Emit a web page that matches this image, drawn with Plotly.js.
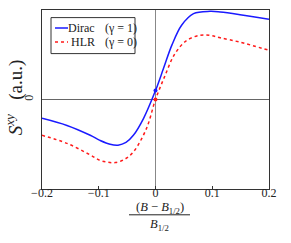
<!DOCTYPE html>
<html><head><meta charset="utf-8">
<script src="https://cdn.plot.ly/plotly-3.0.1.min.js"></script>
<style>html,body{margin:0;padding:0;background:#fff}#c{width:291px;height:243px}</style>
</head><body><div id="c"></div>
<script>
const diracX = [-0.2, -0.156, -0.115, -0.098, -0.08, -0.066, -0.052, -0.039, -0.021, 0, 0.014, 0.029, 0.046, 0.067, 0.096, 0.114, 0.149, 0.2];
const diracY = [-0.21, -0.29, -0.40, -0.456, -0.50, -0.51, -0.48, -0.40, -0.21, 0.10, 0.345, 0.61, 0.83, 0.96, 0.985, 0.978, 0.948, 0.896];
const hlrX = [-0.2, -0.156, -0.115, -0.098, -0.085, -0.071, -0.055, -0.039, -0.016, 0, 0.017, 0.034, 0.055, 0.078, 0.096, 0.114, 0.149, 0.2];
const hlrY = [-0.40, -0.49, -0.62, -0.68, -0.70, -0.705, -0.67, -0.586, -0.325, 0, 0.27, 0.51, 0.66, 0.717, 0.717, 0.69, 0.64, 0.55];
const markX = [0];
const diracMark = [0.10];
const hlrMark = [0];
const xTicks = [-0.2, -0.1, 0, 0.1, 0.2];
const xTickText = ['\u22120.2', '\u22120.1', '0', '0.1', '0.2'];
const legendNames = ['Dirac', 'HLR'];
const legendGamma = ['(\u03b3 = 1)', '(\u03b3 = 0)'];

const font = 'Liberation Serif, Times New Roman, serif';
const traces = [
  {x: diracX, y: diracY, mode: 'lines', line: {color: '#1a1aff', width: 1.5, shape: 'spline', smoothing: 1}},
  {x: hlrX, y: hlrY, mode: 'lines', line: {color: '#ff1a1a', width: 1.5, dash: 'dot', shape: 'spline', smoothing: 1}},
  {x: markX, y: diracMark, mode: 'markers', marker: {color: '#1a1aff', size: 4}},
  {x: markX, y: hlrMark, mode: 'markers', marker: {color: '#ff1a1a', size: 4}}
];
const px = v => (v - 42) / 227;
const py = v => 1 - (v - 9.7) / 179;
const layout = {
  width: 291, height: 243,
  margin: {l: 42, r: 22, t: 10, b: 54},
  paper_bgcolor: '#fff', plot_bgcolor: '#fff',
  showlegend: false,
  font: {family: font, size: 11, color: '#222'},
  xaxis: {range: [-0.2, 0.2], tickvals: xTicks, ticktext: xTickText, ticks: 'inside', ticklen: 3, tickcolor: '#333',
    ticklabelstandoff: -8,
    showline: true, mirror: true, linecolor: '#333', linewidth: 1.2, showgrid: false,
    zeroline: true, zerolinecolor: '#888', zerolinewidth: 1.2, tickfont: {family: font, size: 12, color: '#222'}},
  yaxis: {range: [-1, 1], tickvals: [0], ticktext: ['0'], ticks: '', tickangle: -90, ticklabelstandoff: 3,
    showline: true, mirror: true, linecolor: '#333', linewidth: 1.2, showgrid: false,
    zeroline: true, zerolinecolor: '#666', zerolinewidth: 1.2, tickfont: {family: font, size: 12, color: '#222'}},
  shapes: [
    {type: 'rect', xref: 'paper', yref: 'paper', x0: px(51), x1: px(135), y0: py(53.3), y1: py(17.3), line: {color: '#333', width: 1}, fillcolor: '#fff'},
    {type: 'line', xref: 'paper', yref: 'paper', x0: px(55), x1: px(68), y0: py(27.7), y1: py(27.7), line: {color: '#1a1aff', width: 1.5}},
    {type: 'line', xref: 'paper', yref: 'paper', x0: px(55), x1: px(68), y0: py(41.7), y1: py(41.7), line: {color: '#ff1a1a', width: 1.5, dash: 'dot'}},
    {type: 'line', xref: 'paper', yref: 'paper', x0: px(129), x1: px(190), y0: py(214.5), y1: py(214.5), line: {color: '#222', width: 1}}
  ],
  annotations: [
    {xref: 'paper', yref: 'paper', x: px(14), y: py(97), text: '<i>S</i><sup><i>xy</i></sup>\u00a0\u00a0\u00a0(a.u.)', textangle: -90, showarrow: false, xanchor: 'center', yanchor: 'middle', font: {family: font, size: 19, color: '#222'}},
    {xref: 'paper', yref: 'paper', x: px(97), y: py(27.7), text: legendNames[0], showarrow: false, xanchor: 'right', yanchor: 'middle', font: {family: font, size: 12, color: '#222'}},
    {xref: 'paper', yref: 'paper', x: px(97), y: py(41.7), text: legendNames[1], showarrow: false, xanchor: 'right', yanchor: 'middle', font: {family: font, size: 12, color: '#222'}},
    {xref: 'paper', yref: 'paper', x: px(103), y: py(27.7), text: legendGamma[0], showarrow: false, xanchor: 'left', yanchor: 'middle', font: {family: font, size: 12, color: '#222'}},
    {xref: 'paper', yref: 'paper', x: px(103), y: py(41.7), text: legendGamma[1], showarrow: false, xanchor: 'left', yanchor: 'middle', font: {family: font, size: 12, color: '#222'}},
    {xref: 'paper', yref: 'paper', x: px(159.5), y: py(208), text: '(<i>B</i> \u2212 <i>B</i><sub>1/2</sub>)', showarrow: false, xanchor: 'center', yanchor: 'middle', font: {family: font, size: 12.5, color: '#222'}},
    {xref: 'paper', yref: 'paper', x: px(159.5), y: py(225), text: '<i>B</i><sub>1/2</sub>', showarrow: false, xanchor: 'center', yanchor: 'middle', font: {family: font, size: 12.5, color: '#222'}}
  ]
};
Plotly.newPlot('c', traces, layout, {displayModeBar: false, staticPlot: true});
</script></body></html>
